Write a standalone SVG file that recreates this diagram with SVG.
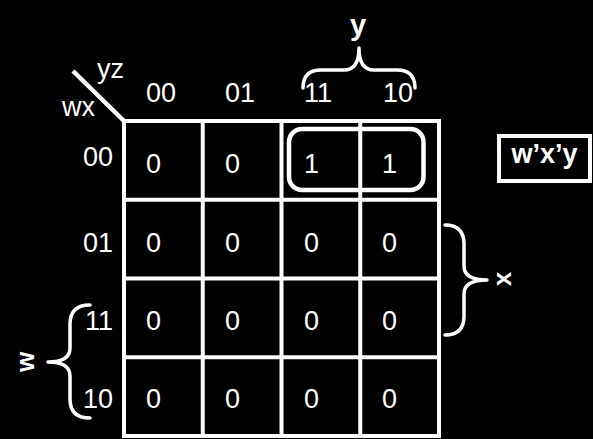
<svg xmlns="http://www.w3.org/2000/svg" width="593" height="439" viewBox="0 0 593 439">
<style>
.t{font-family:"Liberation Sans",Arial,sans-serif;font-size:27px;fill:#fff}
.b{font-weight:bold}
.ln{stroke:#fff;stroke-width:4;fill:none}
.br{stroke:#fff;stroke-width:3.5;fill:none;stroke-linecap:round;stroke-linejoin:round}
</style>
<rect width="593" height="439" fill="#000"/>
<g id="header">
<line class="ln" x1="73" y1="71" x2="124" y2="121" style="stroke-width:4.5"/>
<text class="t" x="97" y="78">yz</text>
<text class="t" x="62" y="116">wx</text>
<text class="t" x="146" y="102">00</text>
<text class="t" x="225" y="102">01</text>
<text class="t" x="304" y="102">11</text>
<text class="t" x="383" y="102">10</text>
<text class="t" x="113" y="166" text-anchor="end">00</text>
<text class="t" x="113" y="252" text-anchor="end">01</text>
<text class="t" x="113" y="330" text-anchor="end">11</text>
<text class="t" x="113" y="408" text-anchor="end">10</text>
</g>
<g id="grid">
<rect class="ln" x="124" y="121" width="315" height="315"/>
<line class="ln" x1="202.75" y1="121" x2="202.75" y2="436"/>
<line class="ln" x1="281.5" y1="121" x2="281.5" y2="436"/>
<line class="ln" x1="360.25" y1="121" x2="360.25" y2="436"/>
<line class="ln" x1="124" y1="199.75" x2="439" y2="199.75"/>
<line class="ln" x1="124" y1="278.5" x2="439" y2="278.5"/>
<line class="ln" x1="124" y1="357.25" x2="439" y2="357.25"/>
</g>
<g id="values">
<text class="t" x="146" y="173">0</text><text class="t" x="225" y="173">0</text><text class="t" x="304" y="173">1</text><text class="t" x="382" y="173">1</text>
<text class="t" x="146" y="252">0</text><text class="t" x="225" y="252">0</text><text class="t" x="304" y="252">0</text><text class="t" x="382" y="252">0</text>
<text class="t" x="146" y="330">0</text><text class="t" x="225" y="330">0</text><text class="t" x="304" y="330">0</text><text class="t" x="382" y="330">0</text>
<text class="t" x="146" y="408">0</text><text class="t" x="225" y="408">0</text><text class="t" x="304" y="408">0</text><text class="t" x="382" y="408">0</text>
</g>
<g id="group-loop">
<rect class="ln" x="289" y="129" width="134.5" height="61" rx="13" style="stroke-width:4.5"/>
</g>
<g id="brace-y">
<path class="br" d="M303,88 Q303,70 321,70 L344,70 Q359,70 359,48 Q359,70 374,70 L397,70 Q415,70 415,88"/>
<text class="t b" x="358" y="35" text-anchor="middle" style="font-size:29px">y</text>
</g>
<g id="brace-x">
<path class="br" d="M445,225 Q464,225 464,244 L464,266 Q464,280 487,280 Q464,280 464,294 L464,316 Q464,335 445,335"/>
<text class="t b" transform="translate(505,279) rotate(-90)" x="0" y="6" text-anchor="middle" style="font-size:26px">x</text>
</g>
<g id="brace-w">
<path class="br" d="M90,305 Q70,305 70,324 L70,348 Q70,362 48,362 Q70,362 70,376 L70,399 Q70,418 90,418"/>
<text class="t b" transform="translate(27,362) rotate(-90)" x="0" y="6.5" text-anchor="middle" style="font-size:26px">w</text>
</g>
<g id="result">
<rect class="ln" x="499" y="136" width="91" height="45"/>
<text class="t b" x="544.5" y="163" text-anchor="middle">w’x’y</text>
</g>
</svg>
